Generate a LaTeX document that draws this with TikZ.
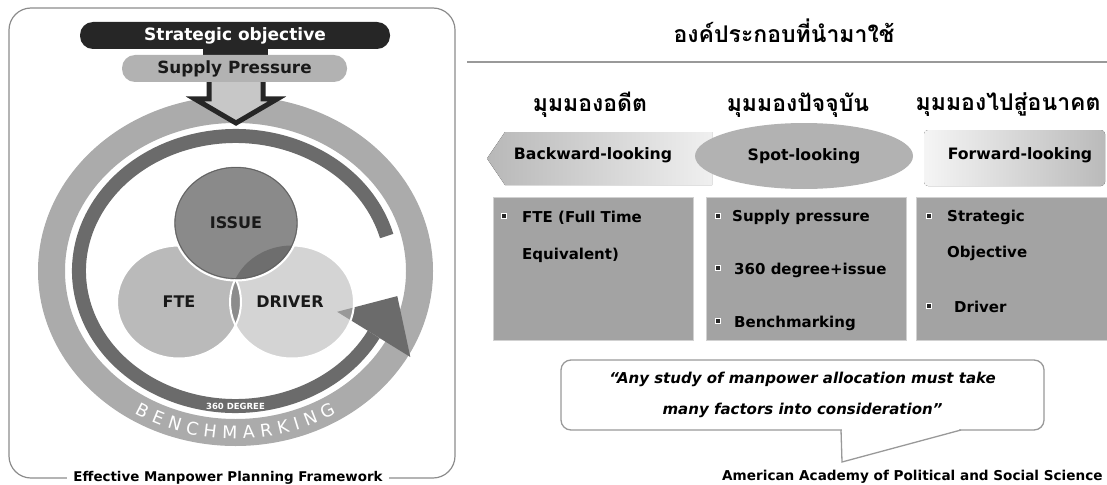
\documentclass[tikz,border=0pt]{standalone}
\usepackage{fontspec}
\setmainfont{DejaVu Sans}
\newfontfamily\thaifont[Script=Thai]{Loma}
\usetikzlibrary{shapes.geometric, calc, decorations.text}

\begin{document}
\begin{tikzpicture}[
    x = 1pt, y = -1pt,
    outerframe/.style = {draw=black!45, line width=1.2pt, rounded corners=22pt},
    captiontext/.style = {fill=white, inner xsep=6pt, font=\fontsize{13.4}{16}\selectfont\bfseries},
    goalpill/.style = {rectangle, rounded corners=13pt, fill=black!85, minimum width=310pt, minimum height=27pt,
                       text=white, font=\fontsize{17}{20}\selectfont\bfseries},
    supplypill/.style = {rectangle, rounded corners=13pt, fill=black!30, minimum width=225pt, minimum height=27pt,
                         text=black!90, font=\fontsize{16.8}{20}\selectfont\bfseries},
    bigarrow/.style = {fill=black!22, draw=black!85, line width=5pt, line join=miter},
    lightring/.style = {draw=black!33, line width=27pt},
    darkring/.style = {draw=black!58, line width=14pt},
    vennlabel/.style = {font=\fontsize{16}{19}\selectfont\bfseries, text=black!90},
    vennedge/.style = {draw=white, line width=2pt},
    degreelabel/.style = {text=white, font=\fontsize{8.5}{10}\selectfont\bfseries},
    thaititle/.style = {font=\thaifont\fontsize{23}{28}\selectfont\bfseries},
    thaihead/.style = {font=\thaifont\fontsize{23}{28}\selectfont\bfseries},
    looking/.style = {font=\fontsize{15.7}{19}\selectfont\bfseries},
    spotellipse/.style = {ellipse, fill=black!30, minimum width=218pt, minimum height=66pt, inner sep=0pt,
                          font=\fontsize{15.7}{19}\selectfont\bfseries},
    listbox/.style = {rectangle, fill=black!36, draw=black!18, line width=1pt, minimum height=143pt},
    bulletsq/.style = {rectangle, fill=black!85, draw=white, line width=0.5pt, minimum size=5pt, inner sep=0pt},
    itemtext/.style = {anchor=west, inner sep=0pt, font=\fontsize{15}{18}\selectfont\bfseries},
    bubble/.style = {rectangle, draw=black!40, line width=1.3pt, rounded corners=10pt, fill=white,
                     minimum width=483pt, minimum height=70pt, align=center,
                     font=\fontsize{15}{31}\selectfont\bfseries\itshape},
    bubbleline/.style = {draw=black!40, line width=1.3pt},
    sourcetext/.style = {anchor=west, inner sep=0pt, font=\fontsize{13.6}{17}\selectfont\bfseries}
]
\useasboundingbox (0,0) rectangle (1107,484);

% ---------------- left panel ----------------
\draw[outerframe] (9,8) rectangle (455,478);

% rings
\coordinate (ringc) at (235.5,271);
\draw[lightring] (ringc) ellipse[x radius=184pt, y radius=161.5pt];
\path[decorate, decoration={text along path,
      text={|\color{white}\fontsize{17.5}{21}\selectfont|BENCHMARKING}, text align={fit to path}}]
    ($(ringc)+(238:190pt and 168pt)$) arc[start angle=238, end angle=302, x radius=190pt, y radius=168pt];
\draw[darkring] ($(ringc)+(15:156.5pt and 135pt)$) arc[start angle=15, end angle=332, x radius=156.5pt, y radius=135pt];
\fill[black!58] (397.3,296.1) -- (410.3,357.0) -- (337.1,311.8) -- cycle;
\node[degreelabel] (degree) at (235.5,406) {360 DEGREE};

% venn circles
\coordinate (issuec) at (236,223);
\coordinate (ftec) at (179,302);
\coordinate (driverc) at (292,302);
\fill[black!27] (ftec) ellipse[x radius=62pt, y radius=56.5pt];
\fill[black!28, fill opacity=0.6] (driverc) ellipse[x radius=62pt, y radius=56.5pt];
\begin{scope}
    \clip (ftec) ellipse[x radius=62pt, y radius=56.5pt];
    \fill[black!45] (driverc) ellipse[x radius=62pt, y radius=56.5pt];
\end{scope}
\draw[vennedge] (ftec) ellipse[x radius=62pt, y radius=56.5pt];
\draw[vennedge] (driverc) ellipse[x radius=62pt, y radius=56.5pt];
\fill[black!46] (issuec) ellipse[x radius=62pt, y radius=56.5pt];
\begin{scope}
    \clip (issuec) ellipse[x radius=62pt, y radius=56.5pt];
    \fill[black!57] (driverc) ellipse[x radius=62pt, y radius=56.5pt];
\end{scope}
\draw[black!62, line width=0.8pt] (issuec) ellipse[x radius=61pt, y radius=55.5pt];
\draw[vennedge] (issuec) ellipse[x radius=63pt, y radius=57.5pt];
\node[vennlabel] (issue) at (236,223) {ISSUE};
\node[vennlabel] (fte) at (179,302) {FTE};
\node[vennlabel] (driver) at (290,302) {DRIVER};

% objective and pressure
\filldraw[bigarrow] (209,70) -- (209,99) -- (195,99) -- (236,123) -- (277,99) -- (263,99) -- (263,70) -- cycle;
\fill[black!85] (203,45) rectangle (268,56);
\node[supplypill] (supply) at (234.5,68.5) {Supply Pressure};
\node[goalpill] (goal) at (235,35.5) {Strategic objective};

\node[captiontext] (caption) at (228,478) {Effective Manpower Planning Framework};

% ---------------- right panel ----------------
\node[thaititle] (title) at (784,31) {องค์ประกอบที่นำมาใช้};
\draw[black!40, line width=1.5pt] (467,62) -- (1107,62);

\node[thaihead] (past) at (590,105) {มุมมองอดีต};
\node[thaihead] (present) at (798,105) {มุมมองปัจจุบัน};
\node[thaihead, anchor=east] (future) at (1104,105) {มุมมองไปสู่อนาคต};

% looking shapes
\fill[left color=black!28, right color=black!6] (487,158.5) -- (505,132) -- (712,132) -- (712,185) -- (505,185) -- cycle;
\node[looking] (backward) at (593,155) {Backward-looking};
\node[spotellipse] (spot) at (804,156) {Spot-looking};
\fill[left color=black!4, right color=black!27, rounded corners=4pt] (924,130) rectangle (1105,186);
\node[looking] (forward) at (1020,155) {Forward-looking};

% lists
\node[listbox, minimum width=200pt] (pastbox) at (593,268.5) {};
\node[listbox, minimum width=200pt] (presentbox) at (806,268.5) {};
\node[listbox, minimum width=191pt] (futurebox) at (1011.5,268.5) {};

\node[bulletsq] (b11) at (504,216) {};
\node[itemtext] (fte1) at (522,218) {FTE (Full Time};
\node[itemtext] (fte2) at (522,255) {Equivalent)};

\node[bulletsq] (b21) at (718,216) {};
\node[bulletsq] (b22) at (718,268) {};
\node[bulletsq] (b23) at (718,321) {};
\node[itemtext] (sup) at (732,217) {Supply pressure};
\node[itemtext] (deg) at (734,270) {360 degree+issue};
\node[itemtext] (bench) at (734,323) {Benchmarking};

\node[bulletsq] (b31) at (929,216) {};
\node[bulletsq] (b32) at (929,306) {};
\node[itemtext] (strat1) at (947,217) {Strategic};
\node[itemtext] (strat2) at (947,253) {Objective};
\node[itemtext] (drv) at (954,307) {Driver};

% quote
\node[bubble] (quote) at (802.5,395) {“Any study of manpower allocation must take\\many factors into consideration”};
\coordinate (tailtip) at (842,462);
\fill[white] (842,428.5) rectangle (959,431.8);
\draw[bubbleline] (841,430) -- (tailtip) -- (961,430);

\node[sourcetext] (source) at (722,477) {American Academy of Political and Social Science};

\end{tikzpicture}
\end{document}
